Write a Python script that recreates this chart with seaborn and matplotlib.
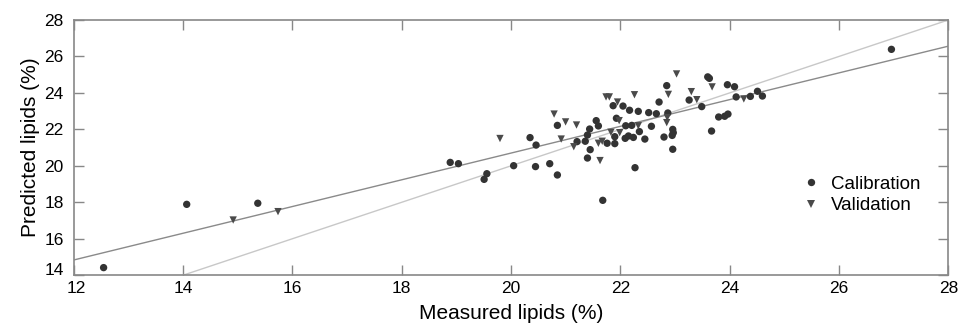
import numpy as np
import pandas as pd
import matplotlib
matplotlib.use('Agg')
import matplotlib.pyplot as plt
import matplotlib.transforms as mtransforms
import seaborn as sns

# calibration set (measured, predicted)
cal_measured = [12.55, 14.07, 15.37, 18.89, 19.04, 19.51, 19.56,
                26.96, 23.60, 23.63, 23.96, 24.09, 24.12, 24.38, 24.51, 24.60,
                23.49, 23.26, 23.80, 23.91, 23.97, 23.67,
                22.85, 22.71, 22.66, 22.52, 22.87, 22.96, 22.97, 22.95, 22.96,
                22.80, 22.57, 22.45, 22.35, 22.33, 22.17, 22.05, 21.87, 21.93,
                22.10, 22.21, 22.09, 22.15, 22.24, 21.90, 21.90, 21.76, 22.27,
                21.68, 21.56, 21.60, 21.44, 21.40, 21.36, 21.21, 21.45, 21.40,
                20.85, 20.35, 20.46, 20.05, 20.45, 20.71, 20.85]
cal_predicted = [14.42, 17.89, 17.95, 20.19, 20.12, 19.26, 19.57,
                 26.39, 24.88, 24.80, 24.45, 24.34, 23.78, 23.81, 24.09, 23.83,
                 23.25, 23.61, 22.68, 22.72, 22.84, 21.91,
                 24.40, 23.50, 22.86, 22.92, 22.90, 22.00, 21.82, 21.67, 20.91,
                 21.58, 22.17, 21.47, 21.88, 22.99, 23.05, 23.28, 23.30, 22.61,
                 22.20, 22.22, 21.51, 21.64, 21.56, 21.60, 21.22, 21.24, 19.90,
                 18.11, 22.48, 22.19, 22.02, 21.69, 21.35, 21.33, 20.89, 20.43,
                 22.22, 21.55, 21.14, 20.01, 19.96, 20.12, 19.50]

# validation set
val_measured = [14.92, 15.74, 19.80, 23.03, 23.68, 23.30, 23.40, 24.26,
                22.88, 22.86, 22.85, 22.26, 21.74, 21.80, 21.95, 21.98,
                21.83, 21.99, 22.33, 20.79, 21.00, 21.20, 20.92, 21.15,
                21.60, 21.67, 21.63]
val_predicted = [17.03, 17.49, 21.50, 25.04, 24.33, 24.07, 23.63, 23.67,
                 23.92, 22.65, 22.37, 23.90, 23.78, 23.78, 23.50, 22.48,
                 21.84, 21.82, 22.20, 22.84, 22.41, 22.24, 21.47, 21.05,
                 21.24, 21.35, 20.29]

fit_intercept = 6.04
fit_slope = 0.733

x_ticks = [12, 14, 16, 18, 20, 22, 24, 26, 28]
y_ticks = [14, 16, 18, 20, 22, 24, 26, 28]

data = pd.DataFrame({
    'Measured': cal_measured + val_measured,
    'Predicted': cal_predicted + val_predicted,
    'Set': ['Calibration'] * len(cal_measured) + ['Validation'] * len(val_measured),
})

sns.set_style('ticks')
plt.rcParams['font.family'] = ['Liberation Sans', 'DejaVu Sans']
plt.rcParams['text.color'] = 'black'
plt.rcParams['axes.labelcolor'] = 'black'

fig = plt.figure(figsize=(9.6, 3.25), dpi=100)
ax = fig.add_axes([0.0766, 0.153, 0.9112, 0.7855])

line_x = np.array([x_ticks[0], x_ticks[-1]])
ax.plot(line_x, line_x, color='#c8c8c8', lw=1.0, zorder=1)
ax.plot(line_x, fit_intercept + fit_slope * line_x, color='#8a8a8a', lw=1.0, zorder=1)

sns.scatterplot(data=data, x='Measured', y='Predicted', hue='Set', style='Set',
                markers={'Calibration': 'o', 'Validation': 'v'},
                palette={'Calibration': '#333333', 'Validation': '#4a4a4a'},
                s=28, edgecolor='none', linewidth=0, ax=ax, zorder=3)

ax.set_xlim(x_ticks[0], x_ticks[-1])
ax.set_ylim(y_ticks[0], y_ticks[-1])
ax.set_xticks(x_ticks)
ax.set_yticks(y_ticks)
ax.tick_params(direction='in', length=7, width=1, color='#888888',
               labelcolor='black', top=True, right=True, labelsize=12.5)
ax.tick_params(axis='x', pad=4)
ax.tick_params(axis='y', pad=7)
for sp in ax.spines.values():
    sp.set_color('#888888')
    sp.set_linewidth(1.2)

# the corner labels are nudged apart as in the original
ax.get_xticklabels()[0].set_transform(
    ax.get_xticklabels()[0].get_transform() + mtransforms.ScaledTranslation(3 / 100, 0, fig.dpi_scale_trans))
ax.get_yticklabels()[0].set_transform(
    ax.get_yticklabels()[0].get_transform() + mtransforms.ScaledTranslation(0, 6 / 100, fig.dpi_scale_trans))

ax.set_xlabel('Measured lipids (%)', fontsize=15, labelpad=6)
ax.set_ylabel('Predicted lipids (%)', fontsize=15, labelpad=3)

leg = ax.legend(title=None, frameon=False, fontsize=13.5, loc='center right',
                bbox_to_anchor=(0.968, 0.315), borderaxespad=0, borderpad=0,
                handlelength=1.0, handletextpad=0.55, labelspacing=0.25)

fig.savefig('out.png', dpi=100)
